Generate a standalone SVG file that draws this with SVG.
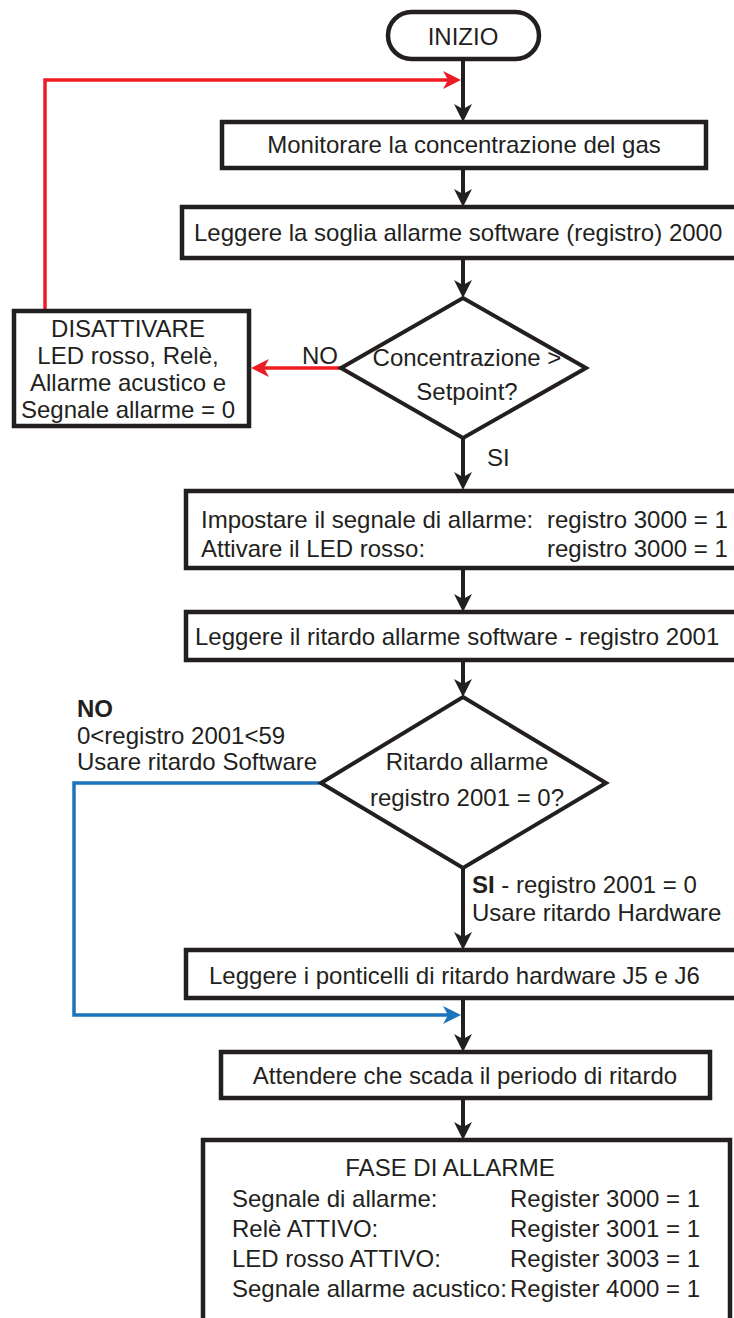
<svg xmlns="http://www.w3.org/2000/svg" width="734" height="1318" viewBox="0 0 734 1318">
  <style>
    .box { fill: #ffffff; stroke: #231f20; stroke-width: 4.5; }
    .dec { fill: #ffffff; stroke: #231f20; stroke-width: 4; stroke-linejoin: miter; }
    .flow { fill: none; stroke: #231f20; stroke-width: 4; }
    .no-red { fill: none; stroke: #ed1c24; stroke-width: 3.5; }
    .no-blue { fill: none; stroke: #1c75bc; stroke-width: 3.5; }
    text { font-family: "Liberation Sans", Arial, sans-serif; font-size: 24px; fill: #231f20; }
    .mid { text-anchor: middle; }
    .b { font-weight: bold; }
  </style>
  <defs>
    <marker id="ahBlack" viewBox="0 0 18 18" markerWidth="18" markerHeight="18" refX="5" refY="9" orient="auto" markerUnits="userSpaceOnUse">
      <path d="M0,0 L18,9 L0,18 L5,9 z" fill="#231f20"/>
    </marker>
    <marker id="ahRed" viewBox="0 0 18 18" markerWidth="18" markerHeight="18" refX="5" refY="9" orient="auto" markerUnits="userSpaceOnUse">
      <path d="M0,0 L18,9 L0,18 L5,9 z" fill="#ed1c24"/>
    </marker>
    <marker id="ahBlue" viewBox="0 0 18 18" markerWidth="18" markerHeight="18" refX="5" refY="9" orient="auto" markerUnits="userSpaceOnUse">
      <path d="M0,0 L18,9 L0,18 L5,9 z" fill="#1c75bc"/>
    </marker>
  </defs>

  <!-- connectors -->
  <g id="connectors">
    <path class="flow" d="M463,59 V109" marker-end="url(#ahBlack)"/>
    <path class="flow" d="M463,168 V194" marker-end="url(#ahBlack)"/>
    <path class="flow" d="M463,258 V285" marker-end="url(#ahBlack)"/>
    <path class="flow" d="M463,438 V477" marker-end="url(#ahBlack)"/>
    <path class="flow" d="M463,568 V599" marker-end="url(#ahBlack)"/>
    <path class="flow" d="M463,660 V684" marker-end="url(#ahBlack)"/>
    <path class="flow" d="M463,868 V937" marker-end="url(#ahBlack)"/>
    <path class="flow" d="M463,998 V1039" marker-end="url(#ahBlack)"/>
    <path class="flow" d="M463,1098 V1127" marker-end="url(#ahBlack)"/>
    <!-- reset loop back to monitoring -->
    <path class="no-red" d="M45,310 V80 H448" marker-end="url(#ahRed)"/>
    <!-- concentration below setpoint -->
    <path class="no-red" d="M342,368 H264" marker-end="url(#ahRed)"/>
    <!-- software delay branch -->
    <path class="no-blue" d="M321,783 H74 V1015 H448" marker-end="url(#ahBlue)"/>
    <text x="302" y="364">NO</text>
    <text x="487" y="466">SI</text>
    <text x="77" y="717" class="b">NO</text>
    <text x="77" y="744">0&lt;registro 2001&lt;59</text>
    <text x="77" y="770">Usare ritardo Software</text>
    <text x="472" y="893"><tspan class="b">SI</tspan> - registro 2001 = 0</text>
    <text x="472" y="921">Usare ritardo Hardware</text>
  </g>

  <g id="start">
    <rect class="box" x="388" y="12" width="151" height="47" rx="23.5"/>
    <text class="mid" x="463" y="45">INIZIO</text>
  </g>

  <g id="monitor">
    <rect class="box" x="222" y="122" width="484" height="46"/>
    <text class="mid" x="464" y="153">Monitorare la concentrazione del gas</text>
  </g>

  <g id="read-threshold">
    <rect class="box" x="182" y="207" width="570" height="51"/>
    <text x="194" y="241">Leggere la soglia allarme software (registro) 2000</text>
  </g>

  <g id="check-setpoint">
    <polygon class="dec" points="463,298 586,368 463,438 341,368"/>
    <text class="mid" x="467" y="366">Concentrazione &gt;</text>
    <text class="mid" x="467" y="400">Setpoint?</text>
  </g>

  <g id="deactivate">
    <rect class="box" x="14" y="311" width="235" height="115"/>
    <text class="mid" x="128" y="337">DISATTIVARE</text>
    <text class="mid" x="128" y="364">LED rosso, Relè,</text>
    <text class="mid" x="128" y="391">Allarme acustico e</text>
    <text class="mid" x="128" y="418">Segnale allarme = 0</text>
  </g>

  <g id="set-alarm">
    <rect class="box" x="186" y="491" width="566" height="77"/>
    <text x="201" y="528">Impostare il segnale di allarme:</text>
    <text x="547" y="528">registro 3000 = 1</text>
    <text x="201" y="557">Attivare il LED rosso:</text>
    <text x="547" y="557">registro 3000 = 1</text>
  </g>

  <g id="read-delay">
    <rect class="box" x="186" y="612" width="566" height="48"/>
    <text x="195" y="645">Leggere il ritardo allarme software - registro 2001</text>
  </g>

  <g id="check-delay">
    <polygon class="dec" points="463,697 606,783 463,868 321,783"/>
    <text class="mid" x="467" y="770">Ritardo allarme</text>
    <text class="mid" x="467" y="806">registro 2001 = 0?</text>
  </g>

  <g id="read-jumpers">
    <rect class="box" x="186" y="950" width="566" height="48"/>
    <text x="209" y="984">Leggere i ponticelli di ritardo hardware J5 e J6</text>
  </g>

  <g id="wait-delay">
    <rect class="box" x="221" y="1052" width="489" height="46"/>
    <text class="mid" x="465" y="1084">Attendere che scada il periodo di ritardo</text>
  </g>

  <g id="alarm-phase">
    <rect class="box" x="203" y="1140" width="527" height="200"/>
    <text class="mid" x="450" y="1176">FASE DI ALLARME</text>
    <text x="232" y="1207">Segnale di allarme:</text>
    <text x="510" y="1207">Register 3000 = 1</text>
    <text x="232" y="1237">Relè ATTIVO:</text>
    <text x="510" y="1237">Register 3001 = 1</text>
    <text x="232" y="1267">LED rosso ATTIVO:</text>
    <text x="510" y="1267">Register 3003 = 1</text>
    <text x="232" y="1297">Segnale allarme acustico:</text>
    <text x="510" y="1297">Register 4000 = 1</text>
  </g>
</svg>
